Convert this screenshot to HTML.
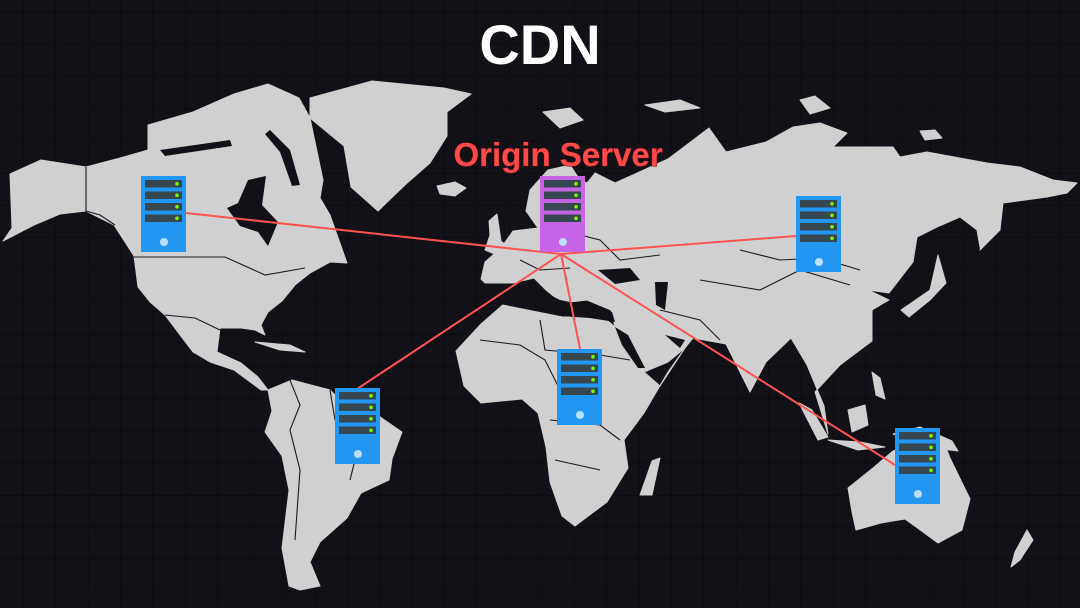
<!DOCTYPE html>
<html><head><meta charset="utf-8"><style>
html,body{margin:0;padding:0;background:#131118;}
svg{display:block}
</style></head><body>
<svg width="1080" height="608" viewBox="0 0 1080 608" xmlns="http://www.w3.org/2000/svg">
<defs>
<pattern id="g" x="23" y="12" width="32.4" height="32.2" patternUnits="userSpaceOnUse">
<path d="M0 0V32.2M0 0H32.4" stroke="#0a090c" stroke-width="1.4" fill="none"/>
</pattern>
<g id="srv">
<rect x="0" y="0" width="45" height="76"/>
<g fill="#37474f"><rect x="4" y="4" width="37" height="7.5"/><rect x="4" y="15.5" width="37" height="7.5"/><rect x="4" y="27" width="37" height="7.5"/><rect x="4" y="38.5" width="37" height="7.5"/></g>
<g fill="#76ff03"><circle cx="36" cy="7.8" r="1.8"/><circle cx="36" cy="19.3" r="1.8"/><circle cx="36" cy="30.8" r="1.8"/><circle cx="36" cy="42.3" r="1.8"/></g>
<circle cx="23" cy="66" r="4" fill="#bbdefb"/>
</g>
</defs>
<rect width="1080" height="608" fill="#131118"/>
<rect width="1080" height="608" fill="url(#g)"/>

<g fill="#d0d0d0" stroke="#d0d0d0" stroke-width="1" stroke-linejoin="round">
<!-- North America -->
<path d="M3 241 L12 228 L10 174 L41 160 L86 167 L120 158 L148 150 L148 125 L193 112 L234 94 L268 84 L299 98 L310 118 L323 180 L320 198 L330 215 L347 263 L330 262 L310 273 L295 285 L282 301 L268 312 L261 325 L265 335 L255 330 L241 328 L220 328 L217 352 L241 363 L258 377 L268 390 L261 390 L234 370 L210 362 L193 352 L180 335 L165 315 L150 302 L138 287 L134 256 L114 225 L86 211 L60 214 L34 225 Z"/>
<!-- Caribbean -->
<path d="M255 342 L290 345 L305 352 L280 350 Z"/>
<!-- Greenland -->
<path d="M310 98 L372 81 L444 88 L471 94 L447 112 L447 136 L430 163 L406 184 L378 211 L351 187 L344 146 L310 118 Z"/>
<path d="M437 186 L455 182 L466 188 L455 196 L440 194 Z"/>
<!-- South America -->
<path d="M268 390 L292 380 L330 390 L344 404 L370 410 L402 432 L392 459 L389 480 L361 493 L347 518 L320 542 L310 562 L320 586 L300 590 L289 586 L282 548 L289 490 L282 456 L265 432 L272 411 Z"/>
<!-- Eurasia -->
<path d="M481 279 L485 262 L501 248 L513 231 L538 228 L526 211 L542 187 L562 173 L587 183 L595 173 L615 183 L668 159 L709 128 L726 152 L766 142 L793 127 L820 123 L847 133 L833 147 L893 147 L900 157 L927 152 L987 163 L1020 167 L1053 180 L1077 183 L1067 193 L1047 197 L1003 203 L993 220 L980 247 L977 230 L960 217 L937 227 L917 237 L913 262 L889 293 L868 290 L889 300 L872 310 L872 341 L840 365 L815 392 L828 434 L824 406 L807 365 L791 338 L766 362 L750 392 L726 344 L693 338 L685 348 L668 362 L644 372 L628 351 L615 327 L611 310 L587 300 L562 303 L546 290 L534 278 L513 283 L485 283 Z"/>
<!-- UK -->
<path d="M489 221 L497 214 L501 241 L509 248 L497 255 L485 250 L490 235 Z"/>
<!-- Scandinavia fill -->
<path d="M526 211 L530 190 L548 170 L570 165 L580 180 L560 200 L555 230 L540 228 Z"/>
<!-- arctic islands -->
<path d="M543 112 L570 108 L583 120 L560 128 Z"/>
<path d="M645 105 L680 100 L700 108 L665 112 Z"/>
<path d="M800 100 L815 96 L830 108 L810 114 Z"/>
<path d="M920 131 L935 130 L942 138 L925 140 Z"/>
<!-- Kamchatka -->
<path d="M1003 203 L1000 230 L980 250 L985 225 Z"/>
<!-- Japan -->
<path d="M938 255 L946 283 L930 300 L909 317 L901 310 L930 290 Z"/>
<!-- Africa -->
<path d="M456 351 L481 324 L505 303 L538 303 L562 317 L603 317 L620 331 L636 365 L660 386 L685 348 L668 372 L644 413 L624 440 L628 468 L607 502 L575 526 L562 516 L550 482 L546 447 L538 413 L522 399 L481 403 L464 386 Z"/>
<path d="M652 461 L660 458 L652 495 L640 495 Z"/>
<!-- SE Asia islands -->
<path d="M799 403 L812 410 L828 437 L818 440 Z"/>
<path d="M848 410 L865 405 L868 425 L852 432 Z"/>
<path d="M828 440 L860 442 L885 447 L858 450 Z"/>
<path d="M872 372 L880 378 L885 399 L876 395 Z"/>
<path d="M893 434 L920 427 L952 441 L958 451 L925 447 Z"/>
<!-- Australia -->
<path d="M848 488 L873 468 L893 451 L913 444 L942 437 L950 458 L970 499 L962 530 L938 543 L905 519 L881 523 L856 530 L852 512 Z"/>
<path d="M1027 530 L1033 540 L1020 560 L1011 567 L1015 552 Z"/>
</g>

<!-- seas -->
<g fill="#131118">
<path d="M485 290 L510 286 L540 290 L560 300 L590 306 L612 312 L615 322 L590 318 L560 316 L530 310 L500 304 Z"/>
<path d="M598 270 L630 268 L640 280 L615 284 Z"/>
<path d="M655 282 L668 282 L665 310 L656 305 Z"/>
<path d="M615 327 L628 335 L645 368 L638 368 L622 345 Z"/>
<path d="M665 335 L685 340 L680 348 Z"/>
<!-- Hudson Bay -->
<path d="M227 208 L245 200 L262 205 L278 222 L268 246 L258 232 L240 226 Z"/>
<path d="M238 203 L248 180 L266 176 L262 205 Z"/>
<!-- arctic channels -->
<path d="M160 150 L230 140 L232 146 L165 156 Z"/>
<path d="M270 130 L290 150 L300 185 L292 186 L280 152 L265 134 Z"/>
<path d="M550 200 L562 196 L563 225 L552 222 Z"/>
</g>

<!-- borders -->
<g stroke="#1a1a1e" stroke-width="1.1" fill="none">
<path d="M86 167 L86 211 L100 215 L115 225"/>
<path d="M134 257 L225 257 L265 275 L305 268"/>
<path d="M165 315 L195 318 L220 330"/>
<path d="M290 380 L300 405 L290 430 L300 470 L295 540"/>
<path d="M330 390 L335 420 L360 440 L350 480"/>
<path d="M480 340 L520 345 L545 360 L560 390"/>
<path d="M540 320 L545 350 L600 355 L630 360"/>
<path d="M550 420 L600 425 L620 440"/>
<path d="M555 460 L600 470"/>
<path d="M660 310 L700 320 L720 340"/>
<path d="M700 280 L760 290 L800 270 L850 285"/>
<path d="M740 250 L780 260 L820 258 L860 270"/>
<path d="M560 230 L600 240 L620 260 L660 255"/>
<path d="M520 260 L540 270 L570 268"/>
</g>

<!-- lines -->
<g stroke="#ff5252" stroke-width="2" fill="none">
<line x1="561" y1="254" x2="186" y2="213"/>
<line x1="561" y1="254" x2="796" y2="236"/>
<line x1="561" y1="254" x2="357" y2="389"/>
<line x1="561" y1="254" x2="580" y2="349"/>
<line x1="561" y1="254" x2="895" y2="465"/>
</g>

<use href="#srv" x="540" y="176" fill="#c764e6"/>
<use href="#srv" x="141" y="176" fill="#2196f3"/>
<use href="#srv" x="796" y="196" fill="#2196f3"/>
<use href="#srv" x="335" y="388" fill="#2196f3"/>
<use href="#srv" x="557" y="349" fill="#2196f3"/>
<use href="#srv" x="895" y="428" fill="#2196f3"/>

<text x="540" y="64" text-anchor="middle" font-family="Liberation Sans, sans-serif" font-weight="bold" font-size="56" fill="#ffffff">CDN</text>
<text x="558" y="166" text-anchor="middle" font-family="Liberation Sans, sans-serif" font-weight="bold" font-size="33" fill="#ff4a4a" stroke="#5a1010" stroke-width="1" paint-order="stroke">Origin Server</text>
</svg>
</body></html>
